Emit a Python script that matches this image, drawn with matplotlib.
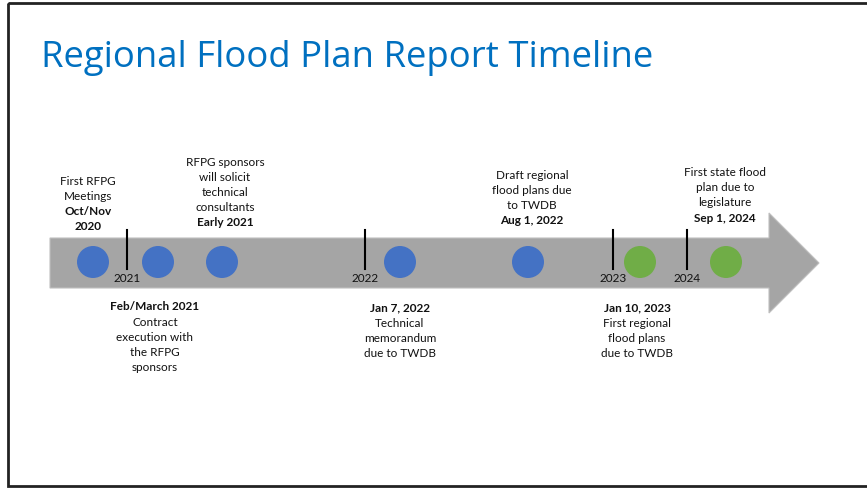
import matplotlib
import matplotlib.pyplot as plt
from matplotlib.patches import Polygon, Rectangle, Circle

plt.rcParams['font.family'] = ['Lato', 'DejaVu Sans']

# timeline data (positions along the arrow, in slide units)
event_pos = [93, 158, 222, 400, 528, 640, 726]
event_done = [True, True, True, True, True, False, False]
event_side = ['up', 'down', 'up', 'down', 'up', 'down', 'up']
event_label_x = [88, 155, 225, 400, 532, 637, 725]
event_text = [
    ['First RFPG', 'Meetings'],
    ['Contract', 'execution with', 'the RFPG', 'sponsors'],
    ['RFPG sponsors', 'will solicit', 'technical', 'consultants'],
    ['Technical', 'memorandum', 'due to TWDB'],
    ['Draft regional', 'flood plans due', 'to TWDB'],
    ['First regional', 'flood plans', 'due to TWDB'],
    ['First state flood', 'plan due to', 'legislature'],
]
event_date = [['Oct/Nov', '2020'], ['Feb/March 2021'], ['Early 2021'], ['Jan 7, 2022'],
              ['Aug 1, 2022'], ['Jan 10, 2023'], ['Sep 1, 2024']]
# y of the line nearest the arrow
event_base = [227, 307, 223, 308, 221, 308, 218]

year_pos = [127, 365, 613, 687]
year_labels = ['2021', '2022', '2023', '2024']

blue = '#4472C4'
green = '#70AD47'
grey = '#A5A5A5'

fig = plt.figure(figsize=(8.67, 4.88), dpi=100)
ax = fig.add_axes([0, 0, 1, 1])
ax.set_xlim(0, 867)
ax.set_ylim(488, 0)
ax.axis('off')

# slide frame
ax.add_patch(Rectangle((8, 3), 880, 483, fill=False, edgecolor='#222222', linewidth=2))

ax.text(41, 67, 'Regional Flood Plan Report Timeline', color='#0070C0',
        fontsize=26.3, va='baseline', ha='left', family=['Open Sans', 'DejaVu Sans'])

# arrow
arrow = [(50, 238), (769, 238), (769, 213), (819, 263), (769, 313), (769, 288), (50, 288)]
ax.add_patch(Polygon(arrow, closed=True, facecolor=grey, edgecolor='#BFBFBF', linewidth=0.8))

for x, done in zip(event_pos, event_done):
    ax.add_patch(Circle((x, 262), 16, facecolor=blue if done else green, edgecolor='none'))

for x, lab in zip(year_pos, year_labels):
    ax.plot([x, x], [230, 269], color='black', linewidth=1.5)
    ax.text(x, 278, lab, ha='center', va='center', fontsize=8.5, color='#111111')

lh = 15.2
for lx, side, txt, dt, yb in zip(event_label_x, event_side, event_text, event_date, event_base):
    if side == 'up':
        lines = [(t, 'normal') for t in txt] + [(d, 'bold') for d in dt]
        y0 = yb - (len(lines) - 1) * lh
    else:
        lines = [(d, 'bold') for d in dt] + [(t, 'normal') for t in txt]
        y0 = yb
    for i, (s, w) in enumerate(lines):
        ax.text(lx, y0 + i * lh, s, ha='center', va='center', fontsize=8.5,
                fontweight=w, color='#111111')

fig.savefig('out.png', dpi=100)
